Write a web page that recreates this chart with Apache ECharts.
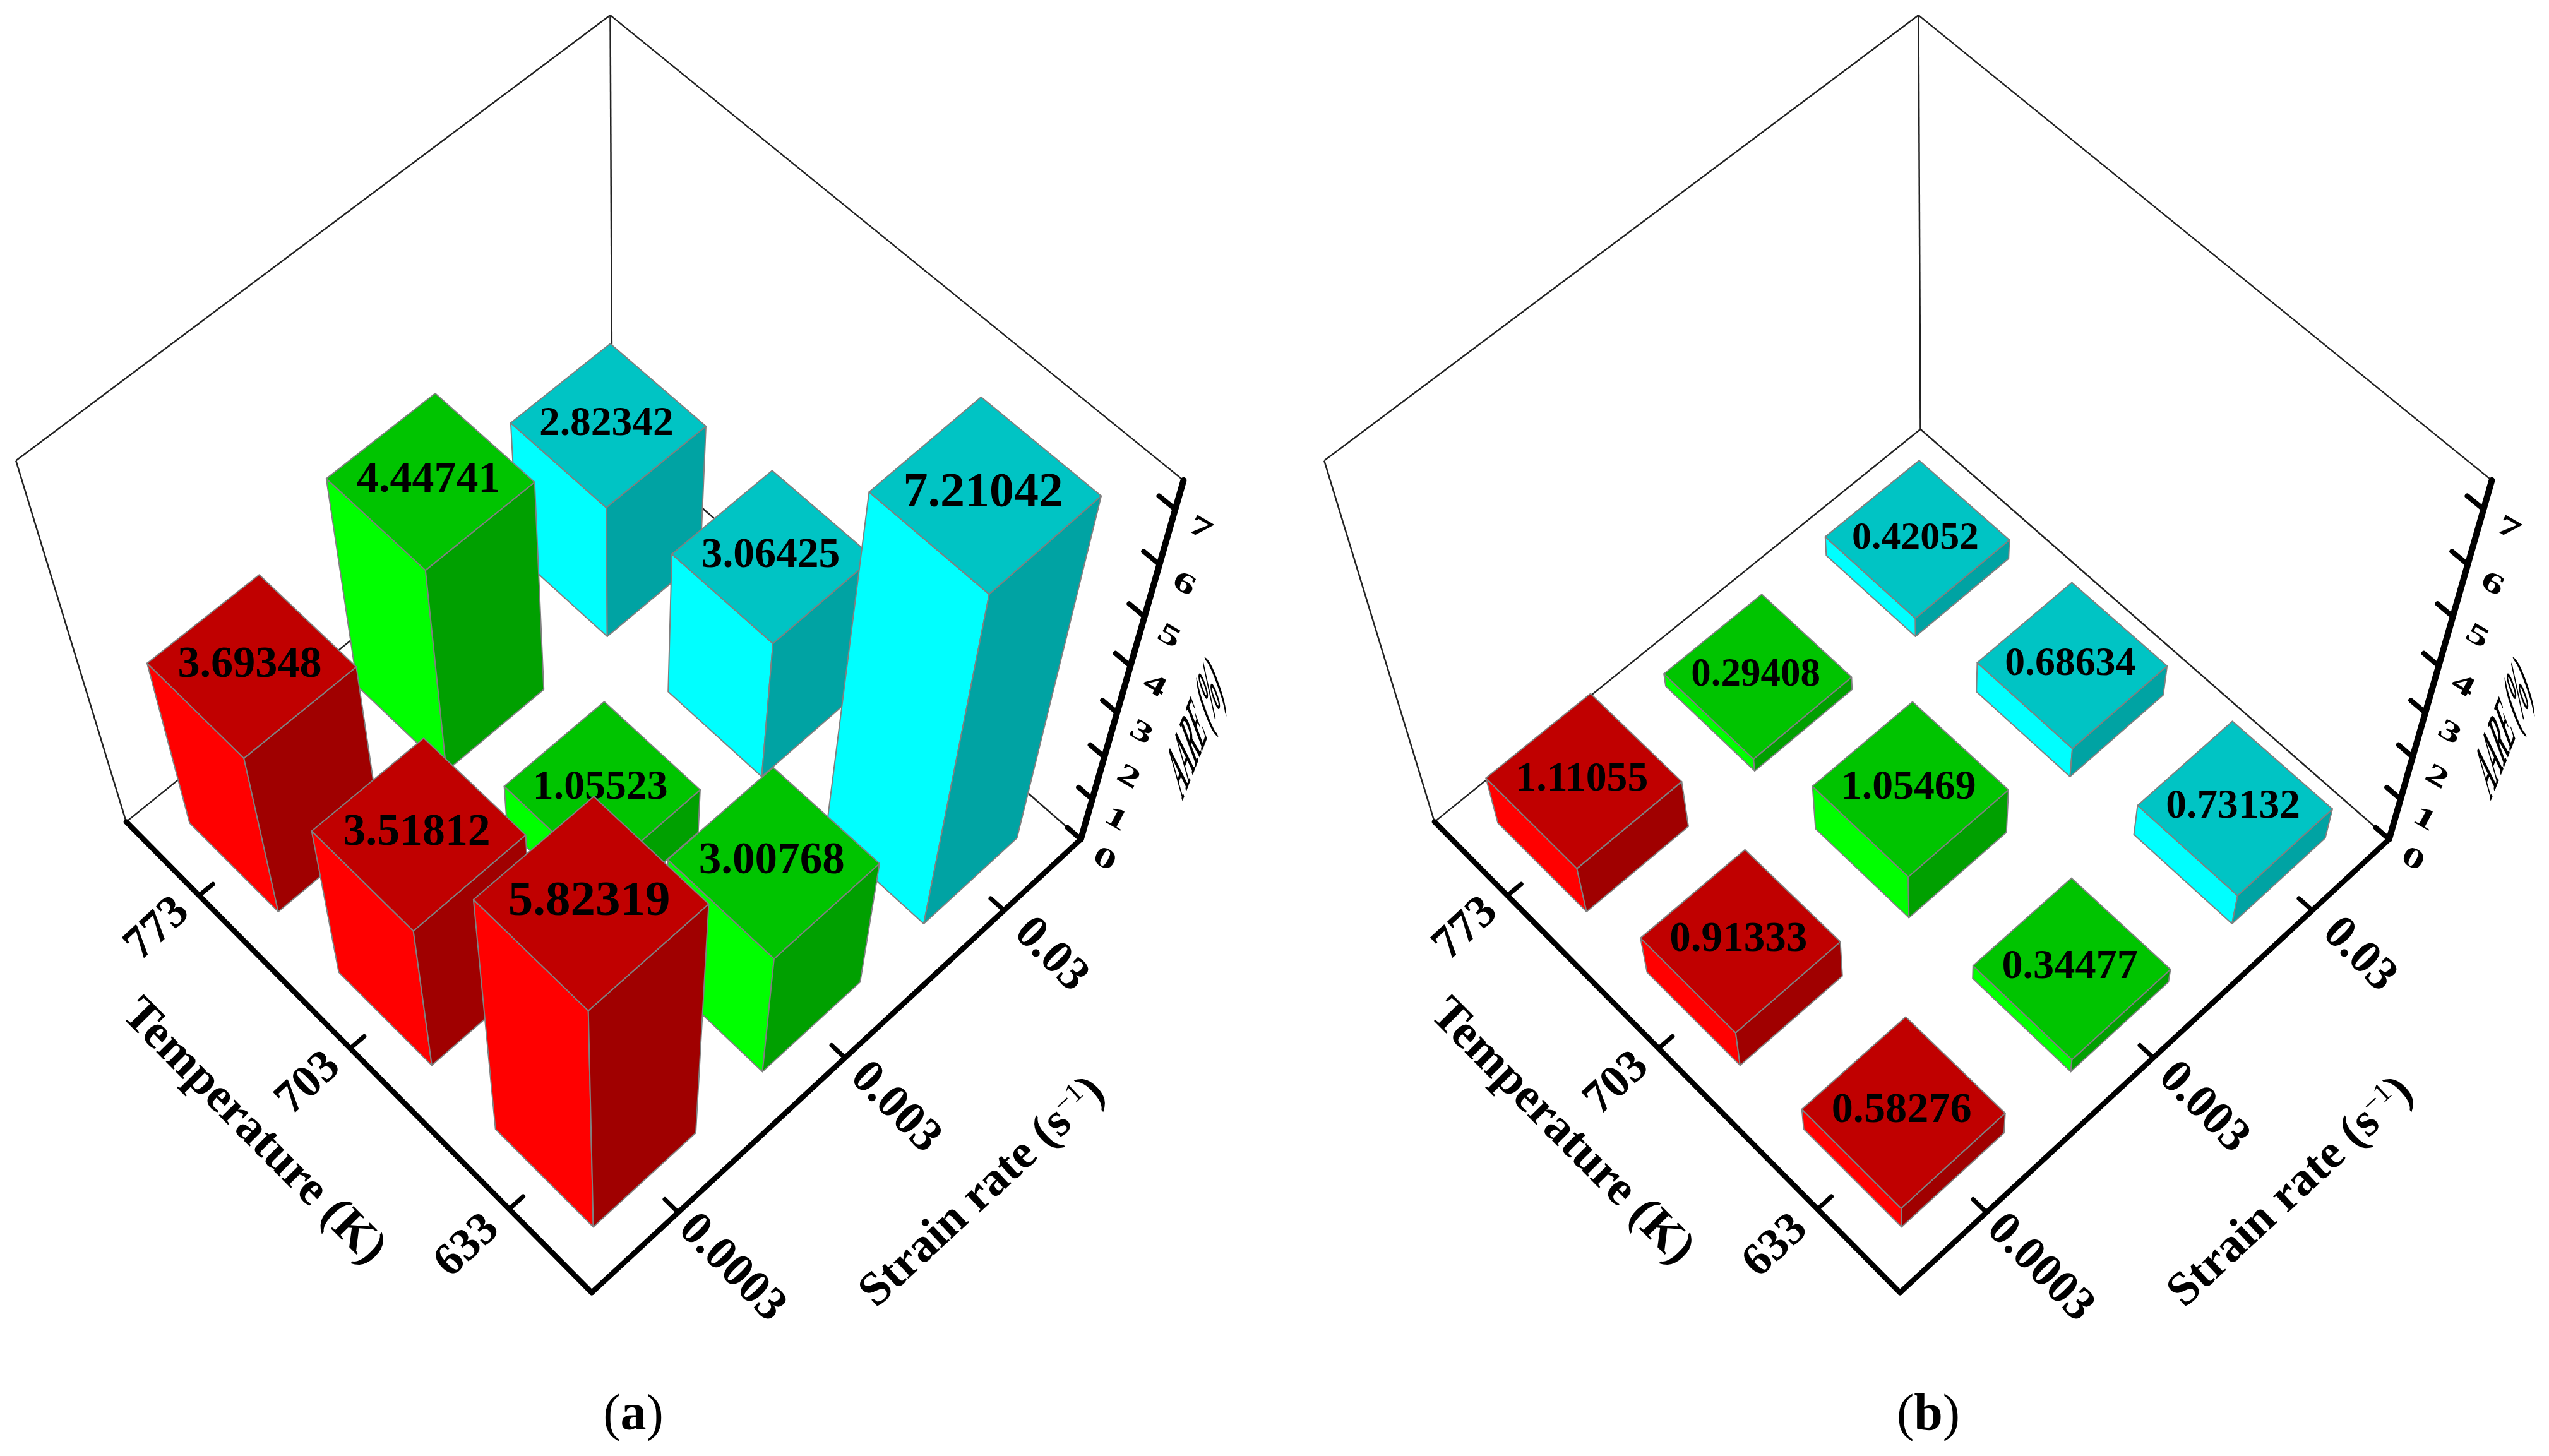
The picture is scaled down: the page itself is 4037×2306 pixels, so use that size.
<!DOCTYPE html>
<html>
<head>
<meta charset="utf-8">
<style>html,body{margin:0;padding:0;background:#fff}#c{width:4037px;height:2306px}</style>
<script src="https://cdn.jsdelivr.net/npm/echarts@6/dist/echarts.min.js"></script>
</head>
<body>
<div id="c"></div>
<script>
// ---- data ----
const temperatures = ['633', '703', '773'];
const strainRates = ['0.0003', '0.003', '0.03'];
const zTicks = [0, 1, 2, 3, 4, 5, 6, 7];
// rows: strain rate, columns: temperature 633, 703, 773
const aareA_0003 = [5.82319, 3.51812, 3.69348];
const aareA_003 = [3.00768, 1.05523, 4.44741];
const aareA_03 = [7.21042, 3.06425, 2.82342];
const aareB_0003 = [0.58276, 0.91333, 1.11055];
const aareB_003 = [0.34477, 1.05469, 0.29408];
const aareB_03 = [0.73132, 0.68634, 0.42052];
const topColors = ['#C00000', '#00C400', '#00C4C4'];
const leftColors = ['#FF0000', '#00FF00', '#00FFFF'];
const rightColors = ['#A00000', '#00A000', '#00A3A3'];

const zTop = 7.5, barGap = 0.2, serif = '"Liberation Serif"';
// box anchors [u, v, w, x, y] in plot units; they fix the oblique camera of the box
const anchors = [
  [0,0,0,935,2053],[3,0,0,198,1303],[0,3,0,1713,1330],[3,3,0,970,680],
  [3,0,zTop,25,731],[0,3,zTop,1875,759],[3,3,zTop,967,24],
  [0,3,3,1770,1129],[0,3,7,1860,807],
  [0.5,0,0,814,1912],[1.5,0,0,555,1658],[2.5,0,0,315,1417],
  [0,0.5,0,1071,1920],[0,1.5,0,1338,1672],[0,2.5,0,1588,1444]
];
function solve(A, b) {
  const n = b.length, M = A.map((r, i) => r.concat(b[i]));
  for (let i = 0; i < n; i++) {
    let p = i;
    for (let k = i + 1; k < n; k++) if (Math.abs(M[k][i]) > Math.abs(M[p][i])) p = k;
    [M[i], M[p]] = [M[p], M[i]];
    for (let k = 0; k < n; k++) if (k !== i) {
      const f = M[k][i] / M[i][i];
      for (let j = i; j <= n; j++) M[k][j] -= f * M[i][j];
    }
  }
  return M.map((r, i) => r[n] / r[i]);
}
function fitCamera() {
  const rows = [], rhs = [];
  anchors.forEach(([u, v, w, X, Y]) => {
    const x = X / 1000, y = Y / 1000;
    rows.push([u, v, w, 1, 0, 0, 0, 0, -x * u, -x * v, -x * w]); rhs.push(x);
    rows.push([0, 0, 0, 0, u, v, w, 1, -y * u, -y * v, -y * w]); rhs.push(y);
  });
  const n = 11, A = [], b = [];
  for (let i = 0; i < n; i++) {
    A.push([]); let s = 0;
    for (let j = 0; j < n; j++) { let t = 0; rows.forEach(r => t += r[i] * r[j]); A[i].push(t); }
    rows.forEach((r, k) => s += r[i] * rhs[k]); b.push(s);
  }
  return solve(A, b);
}
const cam = fitCamera();
function project(u, v, w) {
  const d = cam[8] * u + cam[9] * v + cam[10] * w + 1;
  return [1000 * (cam[0] * u + cam[1] * v + cam[2] * w + cam[3]) / d,
          1000 * (cam[4] * u + cam[5] * v + cam[6] * w + cam[7]) / d];
}
function affine(p, R, D) {
  const th = Math.atan2(R[1], R[0]), sx = Math.hypot(R[0], R[1]);
  const dx = D[0] * Math.cos(th) + D[1] * Math.sin(th);
  const dy = -D[0] * Math.sin(th) + D[1] * Math.cos(th);
  return { x: p[0], y: p[1], rotation: -th, scaleX: sx, scaleY: dy, skewX: Math.atan(dx / sx) };
}
function seg(api, a, b, width, color, cap) {
  const p = api.coord(a), q = api.coord(b);
  return { type: 'line', silent: true, shape: { x1: p[0], y1: p[1], x2: q[0], y2: q[1] },
    style: { stroke: color, lineWidth: width, lineCap: cap || 'round' } };
}
function label(text, pos, rotation, size, extra) {
  return Object.assign({ type: 'text', silent: true, x: pos[0], y: pos[1], rotation: rotation,
    style: { text: text, fontFamily: serif, fontWeight: 'bold', fontSize: size, fill: '#000',
      align: 'center', verticalAlign: 'middle' } }, extra || {});
}
function renderFrame(params, api) {
  const kids = [], C = (u, v, w) => project(u, v, w), co = p => api.coord(p);
  const thin = 2.5, ink = '#222';
  [[[3,0,0],[3,0,zTop]],[[3,0,zTop],[3,3,zTop]],[[3,3,zTop],[0,3,zTop]],[[3,3,zTop],[3,3,0]],
   [[3,0,0],[3,3,0]],[[0,3,0],[3,3,0]]].forEach(s =>
    kids.push(seg(api, C(...s[0]), C(...s[1]), thin, ink, 'butt')));
  kids.push(seg(api, C(3,0,0), C(0,0,0), 8.5, '#000'));
  kids.push(seg(api, C(0,0,0), C(0,3,0), 8.5, '#000'));
  kids.push(seg(api, C(0,3,0), C(0,3,zTop), 10, '#000'));
  const angV = Math.atan2(C(0,3,0)[1] - C(0,0,0)[1], C(0,3,0)[0] - C(0,0,0)[0]);
  const angU = Math.atan2(C(0,0,0)[1] - C(3,0,0)[1], C(0,0,0)[0] - C(3,0,0)[0]);
  temperatures.forEach((t, i) => {
    kids.push(seg(api, C(i + .5, 0, 0), C(i + .5, .08, 0), 7, '#000'));
    kids.push(label(t, co(C(i + .502, -.236, 0)), -angV, 73));
  });
  strainRates.forEach((t, j) => {
    kids.push(seg(api, C(0, j + .5, 0), C(.08, j + .5, 0), 7, '#000'));
    kids.push(label(t, co(C(-.326 + .02 * j, j + .49, 0)), -angU, 75));
  });
  zTicks.forEach(z => {
    kids.push(seg(api, C(0, 3, z), C(.08, 3, z), 8, '#000'));
    const pos = co(C(-.14 + .003 * z, 3, z));
    kids.push(Object.assign(label(String(z), [0, 0], 0, 100), affine(pos, [.62, .36], [-.2, .4])));
  });
  kids.push(label('Temperature (K)', co(C(1.5, -.55, 0)), -angU, 77));
  const sr = label('{a|Strain rate (s}{b|\u22121}{a|)}', co(C(-.823, 1.483, 0)), -angV, 76);
  sr.style.rich = {
    a: { fontFamily: serif, fontWeight: 'bold', fontSize: 76, fill: '#000' },
    b: { fontFamily: serif, fontSize: 44, fill: '#000', verticalAlign: 'top' }
  };
  kids.push(sr);
  const az = label('AARE (%)', [0, 0], 0, 100);
  az.style.fontStyle = 'italic';
  kids.push(Object.assign(az, affine(co(C(-.365, 3, 3.86)), [.15, -.38], [.54, .66])));
  const tag = params.seriesIndex === 0 ? 'a' : 'b';
  kids.push({ type: 'text', silent: true, x: co([tag === 'a' ? 1003 : 982, 2243])[0], y: co([0, 2243])[1],
    style: { text: '{p|(}{q|' + tag + '}{p|)}', align: 'center', verticalAlign: 'middle',
      rich: { p: { fontFamily: serif, fontSize: 82, fill: '#000' },
              q: { fontFamily: serif, fontSize: 82, fontWeight: 'bold', fill: '#000' } } } });
  return { type: 'group', children: kids };
}
function renderBar(params, api) {
  const i = api.value(0), j = api.value(1), val = api.value(2);
  const u0 = i + barGap, u1 = i + 1 - barGap, v0 = j + barGap, v1 = j + 1 - barGap;
  const P = (u, v, w) => api.coord(project(u, v, w));
  const face = (pts, fill) => ({ type: 'polygon', silent: true, shape: { points: pts },
    style: { fill: fill, stroke: '#808080', lineWidth: 2, lineJoin: 'round' } });
  const top = [P(u0, v0, val), P(u1, v0, val), P(u1, v1, val), P(u0, v1, val)];
  const size = 0.212 * (top[3][0] - top[1][0]);
  const c = P((u0 + u1) / 2, (v0 + v1) / 2, val);
  return { type: 'group', children: [
    face([P(u0, v0, 0), P(u1, v0, 0), top[1], top[0]], leftColors[j]),
    face([P(u0, v0, 0), P(u0, v1, 0), top[3], top[0]], rightColors[j]),
    face(top, topColors[j]),
    label(val.toFixed(5), [c[0] - 3, c[1]], 0, size)
  ] };
}
function barData(rows) {
  const out = [];
  for (let s = 4; s >= 0; s--)
    for (let j = 0; j < 3; j++) {
      const i = s - j;
      if (i >= 0 && i < 3) out.push([i, j, rows[j][i]]);
    }
  return out;
}
const gridLeft = [0, 2072], plotW = 1965, plotH = 2306;
const panelRows = [[aareA_0003, aareA_003, aareA_03], [aareB_0003, aareB_003, aareB_03]];
const option = {
  animation: false, backgroundColor: '#fff',
  grid: gridLeft.map(l => ({ left: l, top: 0, width: plotW, height: plotH, show: false })),
  xAxis: gridLeft.map((l, k) => ({ type: 'value', gridIndex: k, min: 0, max: plotW, show: false })),
  yAxis: gridLeft.map((l, k) => ({ type: 'value', gridIndex: k, min: 0, max: plotH, inverse: true, show: false })),
  series: [0, 1].map(k => ({ type: 'custom', xAxisIndex: k, yAxisIndex: k, renderItem: renderFrame, data: [[0, 0]], z: 1, clip: false }))
    .concat([0, 1].map(k => ({ type: 'custom', xAxisIndex: k, yAxisIndex: k, renderItem: renderBar,
      data: barData(panelRows[k]), z: 2, clip: false, encode: { x: 0, y: 1 } })))
};
echarts.init(document.getElementById('c')).setOption(option);
</script>
</body>
</html>
